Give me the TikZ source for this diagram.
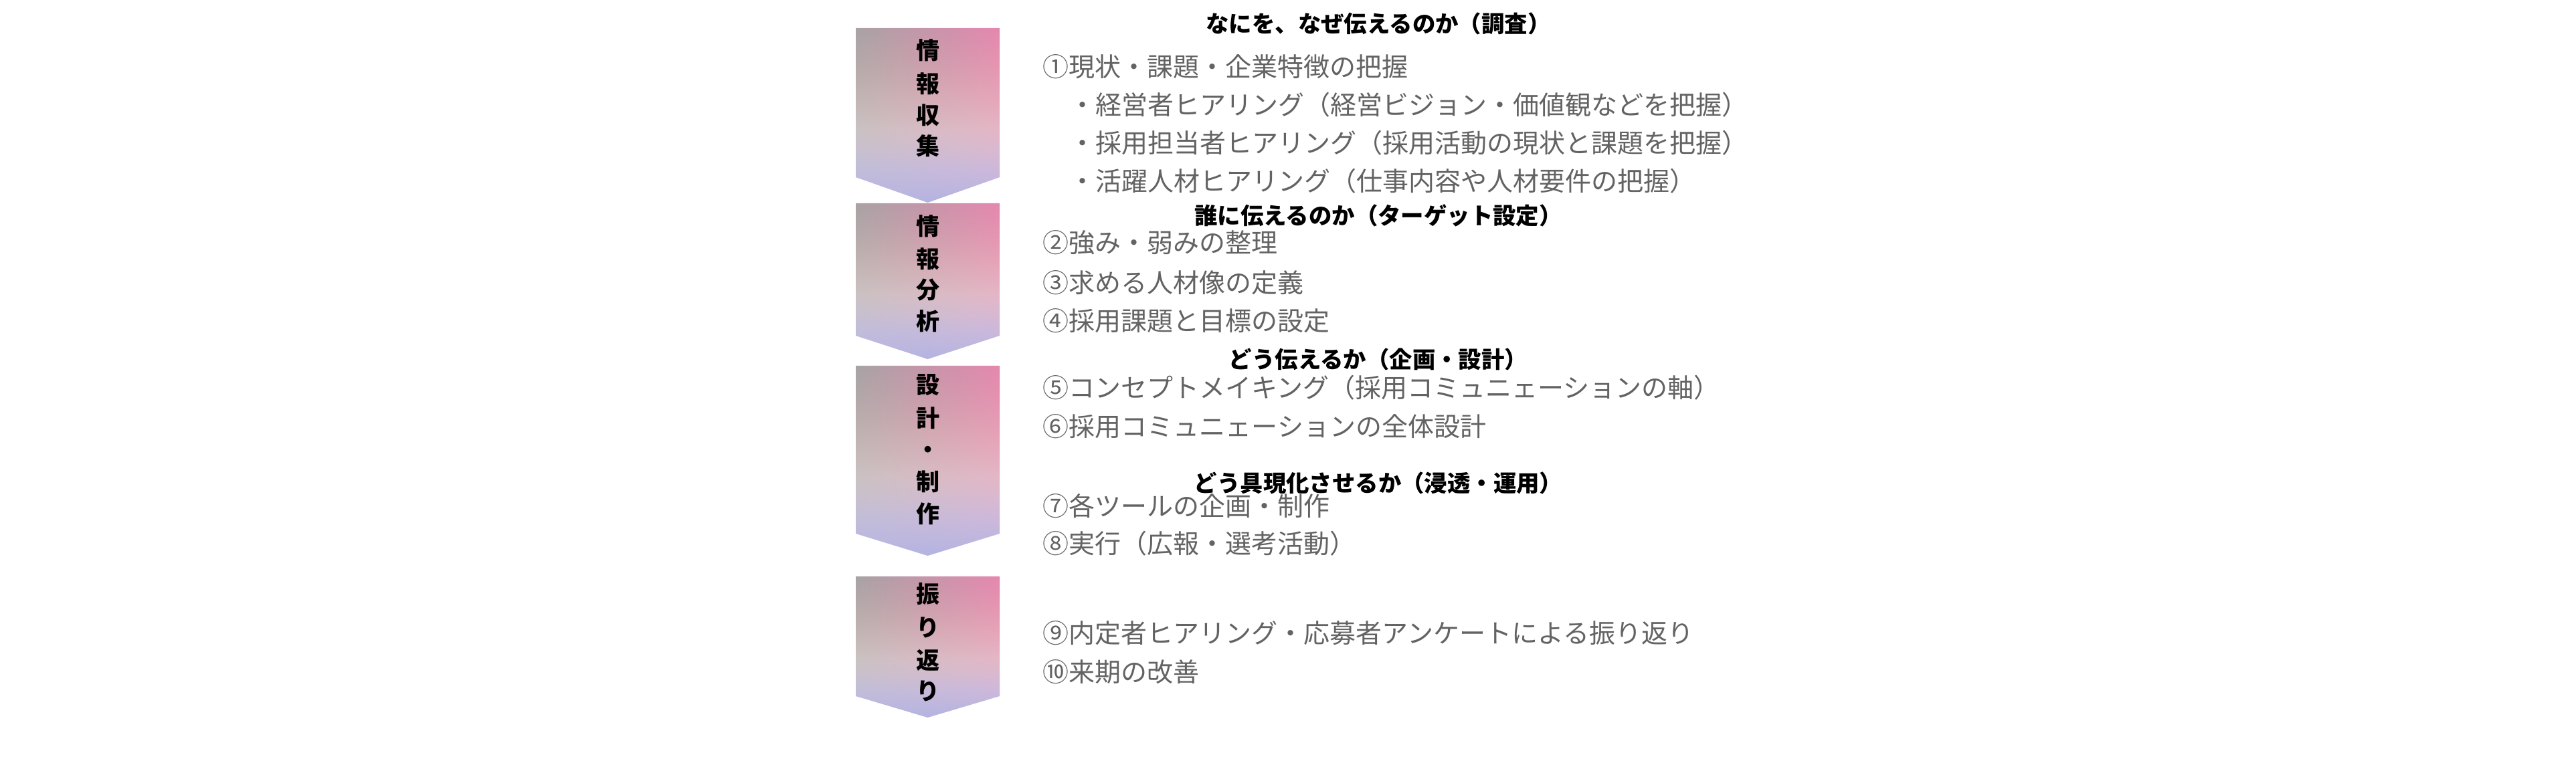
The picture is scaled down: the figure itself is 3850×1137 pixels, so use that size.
\documentclass[tikz,border=0pt]{standalone}
\usepackage{fontspec}
\setmainfont{Noto Sans CJK JP}
\usetikzlibrary{fadings}
\definecolor{bodygrey}{HTML}{636363}
\definecolor{rb0}{HTML}{BCBAE4}
\definecolor{rb1}{HTML}{B4B3E2}
\definecolor{rb2}{HTML}{C8C4E6}
\definecolor{rb3}{HTML}{E4D8D8}
\definecolor{rb4}{HTML}{E9D0C8}
\definecolor{rb5}{HTML}{E6C0BA}
\definecolor{rb6}{HTML}{DDAAB2}
\definecolor{rb7}{HTML}{D7A0B0}
\definecolor{rgrey}{HTML}{A8A3A5}
\definecolor{rpink}{HTML}{E588AE}
\pgfdeclareverticalshading{ribbonshade}{100bp}{color(0bp)=(rb0); color(25bp)=(rb1); color(35bp)=(rb2); color(46bp)=(rb3); color(57bp)=(rb4); color(69bp)=(rb5); color(85bp)=(rb6); color(100bp)=(rb7)}
\tikzfading[name=topfade, top color=transparent!0, middle color=transparent!100, bottom color=transparent!100]
\newcommand\ribbonshape[3]{%
  \path[shading=ribbonshade] (1279,#1) -- (1494,#1) -- (1494,#2) -- (1386.5,#3) -- (1279,#2) -- cycle;
  \path[left color=rgrey, right color=rpink, path fading=topfade] (1279,#1) -- (1494,#1) -- (1494,#2) -- (1386.5,#3) -- (1279,#2) -- cycle;
}
\begin{document}
\begin{tikzpicture}[x=0.25pt, y=-0.25pt,
  body/.style={anchor=west, inner sep=0pt, text height=7.41pt, text depth=0pt,
    font=\fontsize{9.75pt}{11pt}\selectfont, text=bodygrey},
  headline/.style={anchor=center, inner sep=0pt, text height=6.54pt, text depth=0pt,
    font=\fontsize{8.6pt}{10pt}\selectfont\bfseries, text=black},
  lab/.style={anchor=center, inner sep=0pt, text height=6.65pt, text depth=0pt,
    font=\fontsize{8.75pt}{10pt}\selectfont\bfseries, text=black}]
\useasboundingbox (0,0) rectangle (3850,1137);
\fill[white] (0,0) rectangle (3850,1137);

% ribbons
\ribbonshape{42}{265}{303}
\ribbonshape{304}{502}{537}
\ribbonshape{547}{798}{831}
\ribbonshape{862}{1041}{1073}

% ribbon labels
\node[lab] (s1a) at (1387,75) {情};
\node[lab] (s1b) at (1387,125) {報};
\node[lab] (s1c) at (1387,172) {収};
\node[lab] (s1d) at (1387,218) {集};

\node[lab] (s2a) at (1387,338) {情};
\node[lab] (s2b) at (1387,387) {報};
\node[lab] (s2c) at (1387,433) {分};
\node[lab] (s2d) at (1387,480) {析};

\node[lab] (s3a) at (1387,575) {設};
\node[lab] (s3b) at (1387,625) {計};
\node[lab] (s3c) at (1387,672) {・};
\node[lab] (s3d) at (1387,720) {制};
\node[lab] (s3e) at (1387,768) {作};

\node[lab] (s4a) at (1387,888) {振};
\node[lab] (s4b) at (1387,938) {り};
\node[lab] (s4c) at (1387,987) {返};
\node[lab] (s4d) at (1387,1033) {り};

% headings
\node[headline] (h1) at (2060,35) {なにを、なぜ伝えるのか（調査）};
\node[headline] (h2) at (2060,322) {誰に伝えるのか（ターゲット設定）};
\node[headline] (h3) at (2060,537) {どう伝えるか（企画・設計）};
\node[headline] (h4) at (2060,722) {どう具現化させるか（浸透・運用）};

% body lines
\node[body] (l1) at (1558,100) {①現状・課題・企業特徴の把握};
\node[body] (l1a) at (1598,157) {・経営者ヒアリング（経営ビジョン・価値観などを把握）};
\node[body] (l1b) at (1598,214) {・採用担当者ヒアリング（採用活動の現状と課題を把握）};
\node[body] (l1c) at (1598,271) {・活躍人材ヒアリング（仕事内容や人材要件の把握）};
\node[body] (l2) at (1558,363) {②強み・弱みの整理};
\node[body] (l3) at (1558,423) {③求める人材像の定義};
\node[body] (l4) at (1558,480) {④採用課題と目標の設定};
\node[body] (l5) at (1558,580) {⑤コンセプトメイキング（採用コミュニェーションの軸）};
\node[body] (l6) at (1558,638) {⑥採用コミュニェーションの全体設計};
\node[body] (l7) at (1558,757) {⑦各ツールの企画・制作};
\node[body] (l8) at (1558,813) {⑧実行（広報・選考活動）};
\node[body] (l9) at (1558,947) {⑨内定者ヒアリング・応募者アンケートによる振り返り};
\node[body] (l10) at (1558,1005) {⑩来期の改善};
\end{tikzpicture}
\end{document}
